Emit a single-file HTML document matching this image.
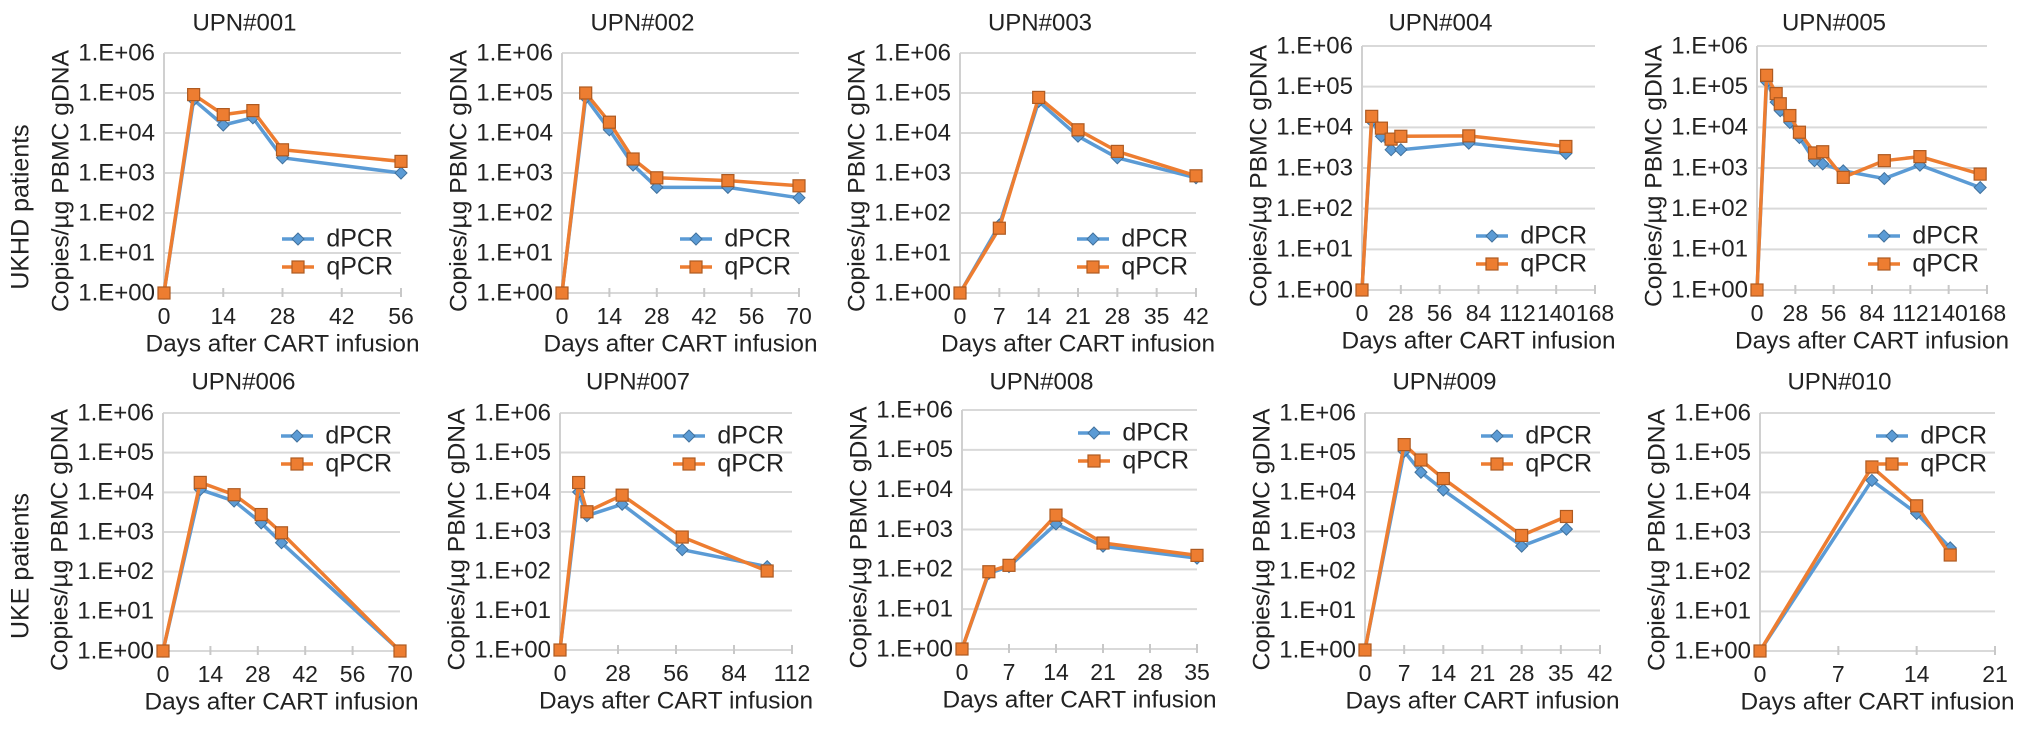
<!DOCTYPE html>
<html><head><meta charset="utf-8"><style>
body{margin:0;background:#fff}
svg{display:block;font-family:"Liberation Sans",sans-serif}
</style></head><body>
<svg id="chart" width="2032" height="736" viewBox="0 0 2032 736" xmlns="http://www.w3.org/2000/svg">
<text x="0" y="0" transform="translate(22,207) rotate(-90)" font-size="25" text-anchor="middle" dominant-baseline="middle" fill="#222">UKHD patients</text>
<text x="0" y="0" transform="translate(22,566) rotate(-90)" font-size="25" text-anchor="middle" dominant-baseline="middle" fill="#222">UKE patients</text>
</svg>
<script>
// data: days and log10 copies for each patient
const titles = ["UPN#001","UPN#002","UPN#003","UPN#004","UPN#005","UPN#006","UPN#007","UPN#008","UPN#009","UPN#010"];
const xMaxes = [56,70,42,168,168,70,112,35,42,21];
const xSteps = [14,14,7,28,28,14,28,7,7,7];
const yTickLabels = ["1.E+00","1.E+01","1.E+02","1.E+03","1.E+04","1.E+05","1.E+06"];
const days1 = [0,7,14,21,28,56];
const d1 = [0,4.83,4.2,4.38,3.38,3.0];
const q1 = [0,4.96,4.46,4.56,3.58,3.29];
const days2 = [0,7,14,21,28,49,70];
const d2 = [0,4.88,4.08,3.2,2.64,2.64,2.38];
const q2 = [0,5.0,4.27,3.35,2.88,2.81,2.68];
const days3 = [0,7,14,21,28,42];
const d3 = [0,1.7,4.79,3.92,3.38,2.88];
const q3 = [0,1.62,4.89,4.08,3.54,2.93];
const days4 = [0,7,14,21,28,77,147];
const d4 = [0,4.15,3.78,3.45,3.45,3.61,3.36];
const q4 = [0,4.27,3.98,3.71,3.78,3.79,3.53];
const days5 = [0,7,14,17,24,31,42,48,63,93,119,163];
const d5 = [0,5.12,4.62,4.41,4.12,3.75,3.18,3.1,2.93,2.74,3.07,2.52];
const q5 = [0,5.28,4.83,4.58,4.29,3.88,3.37,3.4,2.77,3.18,3.28,2.85];
const days6 = [0,11,21,29,35,70];
const d6 = [0,4.07,3.78,3.23,2.73,0];
const q6 = [0,4.25,3.94,3.44,2.98,0];
const days7 = [0,9,13,30,59,100];
const d7 = [0,4.0,3.4,3.69,2.54,2.11];
const q7 = [0,4.24,3.5,3.92,2.86,2.0];
const days8 = [0,4,7,14,21,35];
const d8 = [0,1.9,2.07,3.14,2.58,2.28];
const q8 = [0,1.94,2.1,3.36,2.66,2.35];
const days9 = [0,7,10,14,28,36];
const d9 = [0,5.03,4.5,4.05,2.63,3.06];
const q9 = [0,5.2,4.81,4.34,2.9,3.38];
const days10 = [0,10,14,17];
const d10 = [0,4.3,3.47,2.6];
const q10 = [0,4.64,3.66,2.42];
const allDays=[days1,days2,days3,days4,days5,days6,days7,days8,days9,days10];
const allD=[d1,d2,d3,d4,d5,d6,d7,d8,d9,d10];
const allQ=[q1,q2,q3,q4,q5,q6,q7,q8,q9,q10];

// layout (pixel geometry)
const geo=[
 {x0:164,x1:401,yT:53,yB:293,leg:"bottom"},
 {x0:562,x1:799,yT:53,yB:293,leg:"bottom"},
 {x0:960,x1:1196,yT:53,yB:293,leg:"bottom"},
 {x0:1362,x1:1595,yT:46,yB:290,leg:"bottom"},
 {x0:1757,x1:1987,yT:46,yB:290,leg:"bottom"},
 {x0:163,x1:400,yT:413,yB:651,leg:"top"},
 {x0:560,x1:792,yT:413,yB:650,leg:"top"},
 {x0:962,x1:1197,yT:410,yB:649,leg:"top"},
 {x0:1365,x1:1600,yT:413,yB:650,leg:"top"},
 {x0:1760,x1:1995,yT:413,yB:651,leg:"top"}
];
const NS="http://www.w3.org/2000/svg";
const svg=document.getElementById('chart');
function mk(tag,attrs,parent,text){const e=document.createElementNS(NS,tag);for(const k in attrs)e.setAttribute(k,attrs[k]);if(text!==undefined)e.textContent=text;(parent||svg).appendChild(e);return e;}
const BLUE="#5b9bd5",ORANGE="#ed7d31";
function diamond(g,x,y,name){const s=6;const p=mk('polygon',{points:`${x},${y-s} ${x+s},${y} ${x},${y+s} ${x-s},${y}`,fill:BLUE,stroke:"#41719c","stroke-width":1},g);

}
function square(g,x,y,name){const s=6;const p=mk('rect',{x:x-s,y:y-s,width:2*s,height:2*s,fill:ORANGE,stroke:"#ae5a21","stroke-width":1.2},g);

}

geo.forEach((G,i)=>{
 const g=mk('g',{});
 
 
 const xs=v=>G.x0+(v/xMaxes[i])*(G.x1-G.x0);
 const ys=v=>G.yB-(v/6)*(G.yB-G.yT);
 for(let k=0;k<=6;k++){
  const y=ys(k);
  const gl=mk('line',{x1:G.x0,x2:G.x1,y1:y,y2:y,stroke:"#d9d9d9","stroke-width":2},g);
  
  
  const t=mk('text',{x:G.x0-9,y:y+1,"font-size":24,"text-anchor":"end","dominant-baseline":"middle",fill:"#222"},g,yTickLabels[k]);
  
  
 }
 const ya=mk('line',{x1:G.x0,x2:G.x0,y1:G.yT,y2:G.yB,stroke:"#d0d0d0","stroke-width":2},g);
 
 
 for(let v=0;v<=xMaxes[i];v+=xSteps[i]){
  const x=xs(v);
  const tk=mk('line',{x1:x,x2:x,y1:G.yB-5,y2:G.yB+4,stroke:"#c8c8c8","stroke-width":2},g);
  
  
  const tl=mk('text',{x:x,y:G.yB+25,"font-size":23,"text-anchor":"middle","dominant-baseline":"middle",fill:"#222"},g,String(v));
  
  
 }
 const xt=mk('text',{x:(G.x0+G.x1)/2,y:G.yB+52,"font-size":24,"text-anchor":"middle","dominant-baseline":"middle",fill:"#222",textLength:274,lengthAdjust:"spacingAndGlyphs"},g,"Days after CART infusion");
 
 
 const yt=mk('text',{x:0,y:0,transform:`translate(${G.x0-102},${(G.yT+G.yB)/2+8}) rotate(-90)`,"font-size":24,"text-anchor":"middle","dominant-baseline":"middle",fill:"#222",textLength:262,lengthAdjust:"spacingAndGlyphs"},g,"Copies/µg PBMC gDNA");
 
 
 const tt=mk('text',{x:(G.x0+G.x1)/2-38,y:i<5?24:383,"font-size":24,"text-anchor":"middle","dominant-baseline":"middle",fill:"#222"},g,titles[i]);
 
 
 const days=allDays[i];
 const dp=days.map((d,j)=>xs(d)+','+ys(allD[i][j])).join(' ');
 const qp=days.map((d,j)=>xs(d)+','+ys(allQ[i][j])).join(' ');
 const dl=mk('polyline',{points:dp,fill:"none",stroke:BLUE,"stroke-width":3.5,"stroke-linejoin":"round"},g);
 
 
 days.forEach((d,j)=>diamond(g,xs(d),ys(allD[i][j]),'dpcr-point'));
 const ql=mk('polyline',{points:qp,fill:"none",stroke:ORANGE,"stroke-width":3.5,"stroke-linejoin":"round"},g);
 
 
 days.forEach((d,j)=>square(g,xs(d),ys(allQ[i][j]),'qpcr-point'));
 const ly1=G.leg==="bottom"?G.yB-54:G.yT+23;
 const ly2=ly1+28;
 const lg=mk('g',{},g);
 
 
 const lx=G.x1-119;
 mk('line',{x1:lx,x2:lx+32,y1:ly1,y2:ly1,stroke:BLUE,"stroke-width":3.5},lg);
 diamond(lg,lx+16,ly1,'legend-dpcr-marker');
 const t1=mk('text',{x:G.x1-8,y:ly1+1,"font-size":25,"text-anchor":"end","dominant-baseline":"middle",fill:"#222"},lg,"dPCR");
 
 
 mk('line',{x1:lx,x2:lx+32,y1:ly2,y2:ly2,stroke:ORANGE,"stroke-width":3.5},lg);
 square(lg,lx+16,ly2,'legend-qpcr-marker');
 const t2=mk('text',{x:G.x1-8,y:ly2+1,"font-size":25,"text-anchor":"end","dominant-baseline":"middle",fill:"#222"},lg,"qPCR");
 
 
});
</script>
</body></html>
